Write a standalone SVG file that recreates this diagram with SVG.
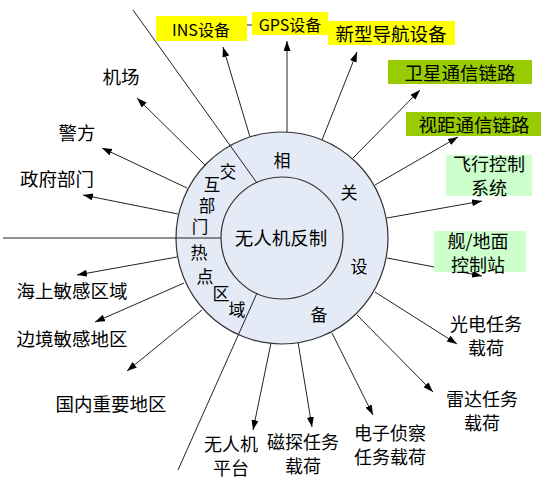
<svg xmlns="http://www.w3.org/2000/svg" width="554" height="500" viewBox="0 0 554 500">
<defs>
<marker id="ah" markerWidth="11" markerHeight="8" refX="10" refY="3.5" orient="auto" markerUnits="userSpaceOnUse">
<path d="M0,0 L10,3.5 L0,7 z" fill="#000"/>
</marker>
<style>
text{font-family:"Noto Sans CJK SC","Liberation Sans",sans-serif;font-size:18.5px;fill:#000;text-anchor:middle;dominant-baseline:central}
.lat{font-size:16px}
.two{font-size:18px}
.rg{font-size:17px}
.rs{font-size:16.5px}
.arr{stroke:#222;stroke-width:1;fill:none;marker-end:url(#ah)}
.ln{stroke:#222;stroke-width:1;fill:none}
.ring{fill:#e4eaf6;stroke:#333;stroke-width:1.2}
.yel{fill:#ffff00}
.grn{fill:#99cc00}
.lgr{fill:#ccffcc}
</style>
</defs>
<rect width="554" height="500" fill="#fff"/>

<g id="connectors">
<line class="arr" x1="250" y1="137" x2="223" y2="47"/>
<line class="arr" x1="287" y1="133" x2="287" y2="41"/>
<line class="arr" x1="322" y1="140" x2="357" y2="52"/>
<line class="arr" x1="353" y1="158" x2="420" y2="90"/>
<line class="arr" x1="375" y1="185" x2="458" y2="137"/>
<line class="arr" x1="387" y1="218" x2="482" y2="201"/>
<line class="arr" x1="387" y1="258" x2="482" y2="276"/>
<line class="arr" x1="375" y1="292" x2="457" y2="344"/>
<line class="arr" x1="357" y1="315" x2="433" y2="392"/>
<line class="arr" x1="332" y1="333" x2="373" y2="415"/>
<line class="arr" x1="298" y1="342" x2="312" y2="427"/>
<line class="arr" x1="271" y1="343" x2="253" y2="430"/>
<line class="arr" x1="205" y1="165" x2="137" y2="98"/>
<line class="arr" x1="187" y1="188" x2="102" y2="148"/>
<line class="arr" x1="178" y1="214" x2="83" y2="195"/>
<line class="arr" x1="177" y1="257" x2="77" y2="275"/>
<line class="arr" x1="184" y1="283" x2="95" y2="322"/>
<line class="arr" x1="202" y1="310" x2="127" y2="371"/>
<line class="ln" x1="247" y1="25" x2="252" y2="25"/>
</g>

<g id="hub">
<circle class="ring" cx="282" cy="238" r="106"/>
<circle class="ring" cx="282" cy="238" r="61"/>
<line class="ln" x1="133" y1="10" x2="257" y2="183"/>
<line class="ln" x1="3" y1="238" x2="221" y2="238"/>
<line class="ln" x1="257" y1="293" x2="178" y2="470"/>
<text x="281" y="237">无人机反制</text>
<text class="rg"><tspan x="282" y="159">相</tspan><tspan x="349" y="191">关</tspan><tspan x="359" y="265">设</tspan><tspan x="319" y="313">备</tspan></text>
<text class="rs"><tspan x="228" y="171">交</tspan><tspan x="212" y="184">互</tspan><tspan x="207" y="205">部</tspan><tspan x="200" y="226">门</tspan></text>
<text class="rg"><tspan x="199" y="251">热</tspan><tspan x="205" y="275">点</tspan><tspan x="221" y="292">区</tspan><tspan x="237" y="308">域</tspan></text>
</g>

<g id="n-ins"><rect class="yel" x="156" y="16" width="91" height="25"/><text class="lat" x="201" y="29">INS设备</text></g>
<g id="n-gps"><rect class="yel" x="252" y="12" width="76" height="23"/><text class="lat" x="290" y="24">GPS设备</text></g>
<g id="n-nav"><rect class="yel" x="328" y="21" width="127" height="24"/><text x="391" y="33">新型导航设备</text></g>
<g id="n-sat"><rect class="grn" x="388" y="60" width="144" height="24"/><text x="460" y="72">卫星通信链路</text></g>
<g id="n-los"><rect class="grn" x="406" y="112" width="135" height="24"/><text x="474" y="124">视距通信链路</text></g>
<g id="n-fcs"><rect class="lgr" x="446" y="155" width="86" height="41"/><text class="two"><tspan x="489" y="163">飞行控制</tspan><tspan x="489" y="187">系统</tspan></text></g>
<g id="n-gcs"><rect class="lgr" x="434" y="231" width="92" height="41"/><text class="two"><tspan x="478" y="240">舰/地面</tspan><tspan x="478" y="264">控制站</tspan></text></g>
<g id="n-eo"><text class="two"><tspan x="486" y="323">光电任务</tspan><tspan x="486" y="347">载荷</tspan></text></g>
<g id="n-radar"><text class="two"><tspan x="482" y="398">雷达任务</tspan><tspan x="482" y="422">载荷</tspan></text></g>
<g id="n-elint"><text class="two"><tspan x="390" y="432">电子侦察</tspan><tspan x="390" y="456">任务载荷</tspan></text></g>
<g id="n-mag"><text class="two"><tspan x="303" y="441">磁探任务</tspan><tspan x="303" y="465">载荷</tspan></text></g>
<g id="n-uav"><text class="two"><tspan x="231" y="443">无人机</tspan><tspan x="231" y="467">平台</tspan></text></g>
<g id="n-airport"><text x="121" y="76">机场</text></g>
<g id="n-police"><text x="77" y="132">警方</text></g>
<g id="n-gov"><text x="57" y="178">政府部门</text></g>
<g id="n-sea"><text x="72" y="290">海上敏感区域</text></g>
<g id="n-border"><text x="72" y="338">边境敏感地区</text></g>
<g id="n-dom"><text x="111" y="403">国内重要地区</text></g>
</svg>
